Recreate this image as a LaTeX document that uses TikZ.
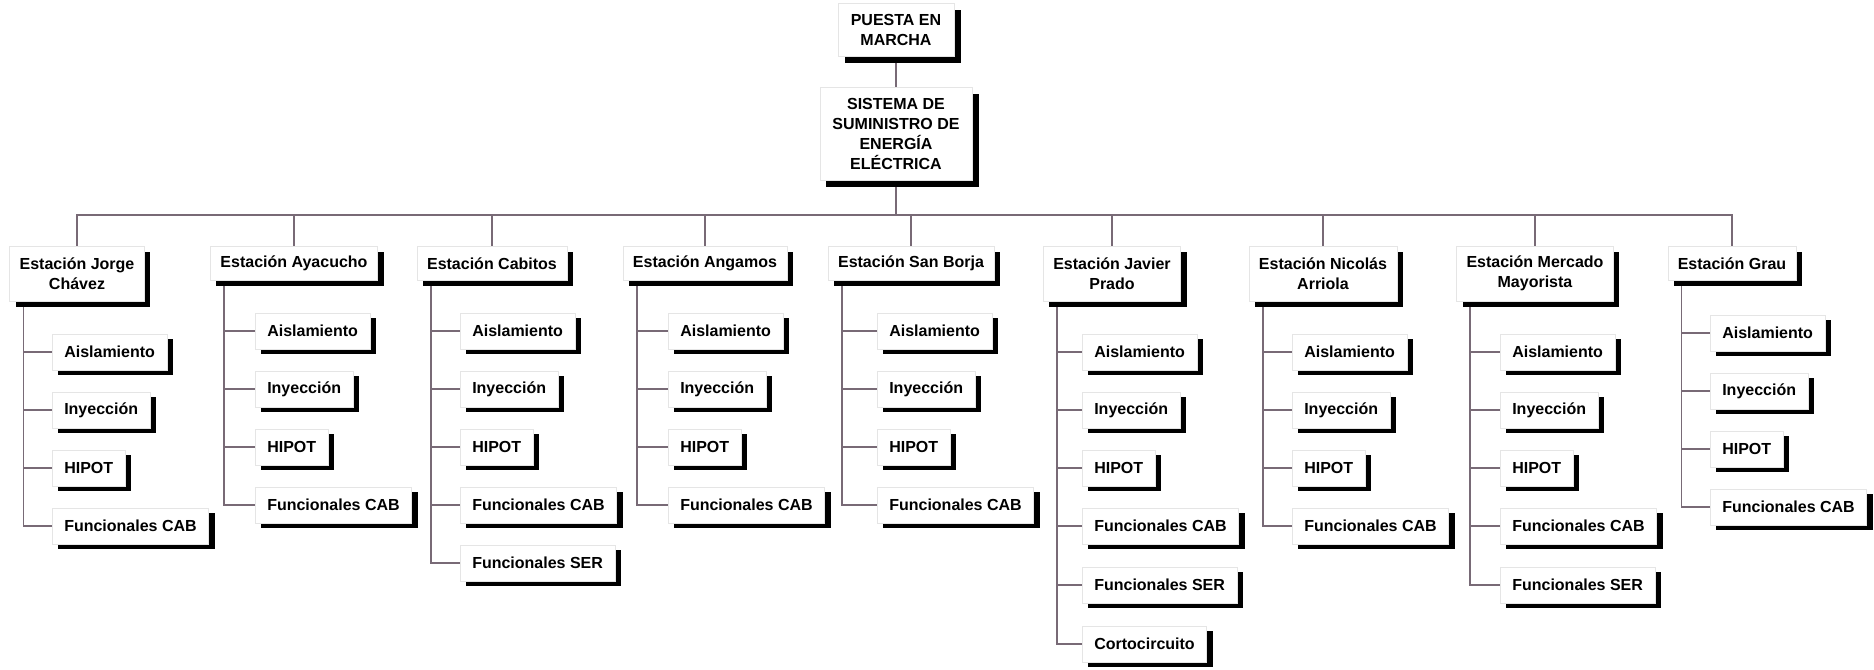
\documentclass[tikz,border=0pt]{standalone}
\usepackage{fontspec}
\setmainfont{Liberation Sans}
\usepackage{tikz}
\usetikzlibrary{shadows,backgrounds}
\definecolor{linkgray}{RGB}{120,106,118}
\def\branch(#1)(#2){\draw[link] ([xshift=10.5pt]#1.south west) |- (#2.west);}
\tikzset{
	link/.style={draw=linkgray, line width=1.3pt},
	boxbase/.style={draw=black!10, line width=0.4pt, fill=white, align=center, font=\fontsize{12pt}{15pt}\selectfont\bfseries},
	topbox/.style={boxbase, anchor=north, inner xsep=9.5pt, inner ysep=8pt, drop shadow={shadow xshift=5pt, shadow yshift=-5pt, fill=black, opacity=1}},
	stbox/.style={boxbase, anchor=north, inner xsep=7.5pt, inner ysep=6.5pt, minimum height=25.5pt, drop shadow={shadow xshift=4.5pt, shadow yshift=-4.5pt, fill=black, opacity=1}},
	sttall/.style={stbox, minimum height=41pt},
	subbox/.style={boxbase, anchor=west, inner xsep=9pt, inner ysep=4pt, minimum height=27pt, drop shadow={shadow xshift=4.5pt, shadow yshift=-3.5pt, fill=black, opacity=1}},
}

\begin{document}
\begin{tikzpicture}[x=0.75pt, y=-0.75pt]
				\useasboundingbox (0,0) rectangle (1874,670);
				
				\node[topbox] (pm) at (896,3) {PUESTA EN\\MARCHA};
				\node[topbox] (sis) at (896,87) {SISTEMA DE\\SUMINISTRO DE\\ENERGÍA\\ELÉCTRICA};
				\coordinate (bus) at (896,215);
				
				\node[sttall] (jc) at (77,246) {Estación Jorge\\Chávez};
				\node[stbox] (ay) at (294,246) {Estación Ayacucho};
				\node[stbox] (cab) at (492,246) {Estación Cabitos};
				\node[stbox] (ang) at (705,246) {Estación Angamos};
				\node[stbox] (sb) at (911,246) {Estación San Borja};
				\node[sttall] (jp) at (1112,246) {Estación Javier\\Prado};
				\node[sttall] (na) at (1323,246) {Estación Nicolás\\Arriola};
				\node[sttall] (mm) at (1535,246) {Estación Mercado\\Mayorista};
				\node[stbox] (gr) at (1732,246) {Estación Grau};
				
				\node[subbox] (jc1) at (52,352) {Aislamiento};
				\node[subbox] (jc2) at (52,410) {Inyección};
				\node[subbox] (jc3) at (52,468) {HIPOT};
				\node[subbox] (jc4) at (52,526) {Funcionales CAB};
				
				\node[subbox] (ay1) at (255,331) {Aislamiento};
				\node[subbox] (ay2) at (255,389) {Inyección};
				\node[subbox] (ay3) at (255,447) {HIPOT};
				\node[subbox] (ay4) at (255,505) {Funcionales CAB};
				
				\node[subbox] (cab1) at (460,331) {Aislamiento};
				\node[subbox] (cab2) at (460,389) {Inyección};
				\node[subbox] (cab3) at (460,447) {HIPOT};
				\node[subbox] (cab4) at (460,505) {Funcionales CAB};
				\node[subbox] (cab5) at (460,563) {Funcionales SER};
				
				\node[subbox] (ang1) at (668,331) {Aislamiento};
				\node[subbox] (ang2) at (668,389) {Inyección};
				\node[subbox] (ang3) at (668,447) {HIPOT};
				\node[subbox] (ang4) at (668,505) {Funcionales CAB};
				
				\node[subbox] (sb1) at (877,331) {Aislamiento};
				\node[subbox] (sb2) at (877,389) {Inyección};
				\node[subbox] (sb3) at (877,447) {HIPOT};
				\node[subbox] (sb4) at (877,505) {Funcionales CAB};
				
				\node[subbox] (jp1) at (1082,352) {Aislamiento};
				\node[subbox] (jp2) at (1082,410) {Inyección};
				\node[subbox] (jp3) at (1082,468) {HIPOT};
				\node[subbox] (jp4) at (1082,526) {Funcionales CAB};
				\node[subbox] (jp5) at (1082,585) {Funcionales SER};
				\node[subbox] (jp6) at (1082,644) {Cortocircuito};
				
				\node[subbox] (na1) at (1292,352) {Aislamiento};
				\node[subbox] (na2) at (1292,410) {Inyección};
				\node[subbox] (na3) at (1292,468) {HIPOT};
				\node[subbox] (na4) at (1292,526) {Funcionales CAB};
				
				\node[subbox] (mm1) at (1500,352) {Aislamiento};
				\node[subbox] (mm2) at (1500,410) {Inyección};
				\node[subbox] (mm3) at (1500,468) {HIPOT};
				\node[subbox] (mm4) at (1500,526) {Funcionales CAB};
				\node[subbox] (mm5) at (1500,585) {Funcionales SER};
				
				\node[subbox] (gr1) at (1710,333) {Aislamiento};
				\node[subbox] (gr2) at (1710,391) {Inyección};
				\node[subbox] (gr3) at (1710,449) {HIPOT};
				\node[subbox] (gr4) at (1710,507) {Funcionales CAB};
				
				\begin{scope}[on background layer]
				\draw[link] (pm.south) -- (sis.north);
				\draw[link] (sis.south) -- (bus);
				\draw[link] (jc.north) |- (bus) -| (gr.north);
				\draw[link] (ay.north) -- (ay.north |- bus);
				\draw[link] (cab.north) -- (cab.north |- bus);
				\draw[link] (ang.north) -- (ang.north |- bus);
				\draw[link] (sb.north) -- (sb.north |- bus);
				\draw[link] (jp.north) -- (jp.north |- bus);
				\draw[link] (na.north) -- (na.north |- bus);
				\draw[link] (mm.north) -- (mm.north |- bus);
				
				\branch(jc)(jc1) \branch(jc)(jc2) \branch(jc)(jc3) \branch(jc)(jc4)
				\branch(ay)(ay1) \branch(ay)(ay2) \branch(ay)(ay3) \branch(ay)(ay4)
				\branch(cab)(cab1) \branch(cab)(cab2) \branch(cab)(cab3) \branch(cab)(cab4) \branch(cab)(cab5)
				\branch(ang)(ang1) \branch(ang)(ang2) \branch(ang)(ang3) \branch(ang)(ang4)
				\branch(sb)(sb1) \branch(sb)(sb2) \branch(sb)(sb3) \branch(sb)(sb4)
				\branch(jp)(jp1) \branch(jp)(jp2) \branch(jp)(jp3) \branch(jp)(jp4) \branch(jp)(jp5) \branch(jp)(jp6)
				\branch(na)(na1) \branch(na)(na2) \branch(na)(na3) \branch(na)(na4)
				\branch(mm)(mm1) \branch(mm)(mm2) \branch(mm)(mm3) \branch(mm)(mm4) \branch(mm)(mm5)
				\branch(gr)(gr1) \branch(gr)(gr2) \branch(gr)(gr3) \branch(gr)(gr4)
				\end{scope}
\end{tikzpicture}
\end{document}
